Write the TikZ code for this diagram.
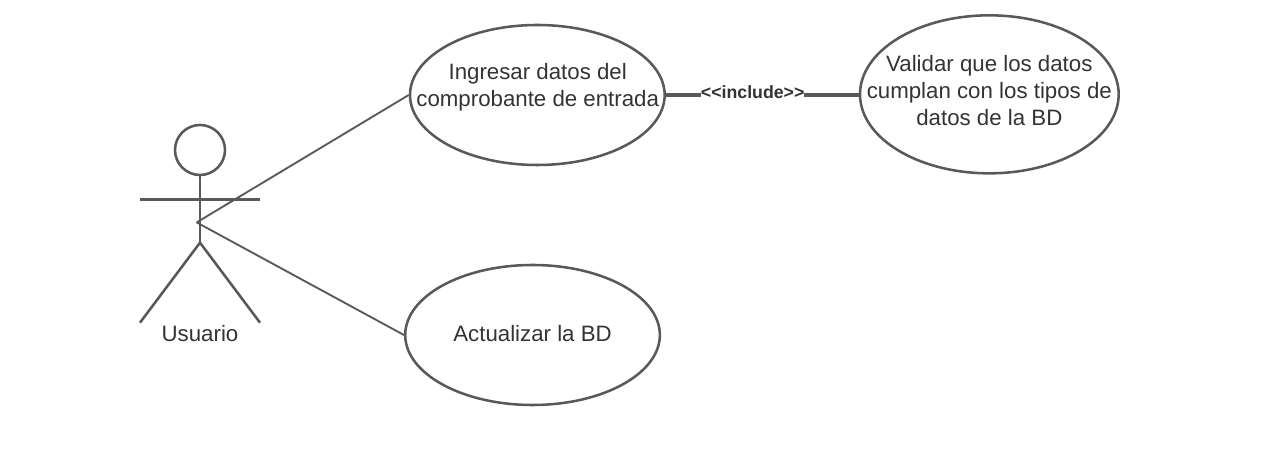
\documentclass[tikz,border=0pt]{standalone}
\usepackage{fontspec}
\setmainfont{Liberation Sans}
\usetikzlibrary{shapes.geometric}
\definecolor{linegray}{HTML}{595959}
\definecolor{textgray}{HTML}{333333}
\tikzset{
    usecase/.style={draw=linegray, line width=1.9pt, ellipse, inner sep=-40pt},
    casetext/.style={text=textgray, font=\fontsize{16.7}{20.2}\selectfont, align=center, inner sep=0pt},
    actorline/.style={draw=linegray, line width=1.9pt},
    assoc/.style={draw=linegray, line width=1.4pt}
}
\begin{document}
\begin{tikzpicture}[x=1pt, y=-1pt]
    \useasboundingbox (0,0) rectangle (948.75,344.25);
    % Actor
    \node[circle, draw=linegray, line width=1.9pt, minimum size=37.5pt, inner sep=0pt] (head) at (150,112.5) {};
    \coordinate (hip) at (150,182);
    \coordinate (armL) at (105,149.5);
    \coordinate (armR) at (195,149.5);
    \coordinate (footL) at (105,242);
    \coordinate (footR) at (195,242);
    \coordinate (hand) at (147.5,166.8);
    \draw[actorline] (head) -- (hip);
    \draw[actorline] (armL) -- (armR);
    \draw[actorline] (footL) -- (hip) -- (footR);
    \node[casetext] (usuario) at (150,250) {Usuario};
    % Use cases
    \node[usecase, minimum width=191pt, minimum height=105pt] (ingresar) at (403,71.25) {};
    \node[usecase, minimum width=194pt, minimum height=118.5pt] (validar) at (742,70.75) {};
    \node[usecase, minimum width=191pt, minimum height=105pt] (actualizar) at (399.4,251.25) {};
    \node[casetext] (ingresarText) at (403.3,65.6) {Ingresar datos del\\comprobante de entrada};
    \node[casetext] (validarText) at (742,68) {Validar que los datos\\cumplan con los tipos de\\datos de la BD};
    \node[casetext] (actualizarText) at (399.4,250.5) {Actualizar la BD};
    % Connectors
    \draw[assoc] (hand) -- (ingresar.west);
    \draw[assoc] (hand) -- (actualizar.west);
    \draw[draw=linegray, line width=2.3pt] (ingresar.east) -- node[pos=0.45, yshift=2pt, fill=white, inner sep=0pt, text=textgray, font=\fontsize{13.3}{15}\selectfont\bfseries] (incl) {<{}<include>{}>} (ingresar.east -| validar.west);
\end{tikzpicture}
\end{document}
